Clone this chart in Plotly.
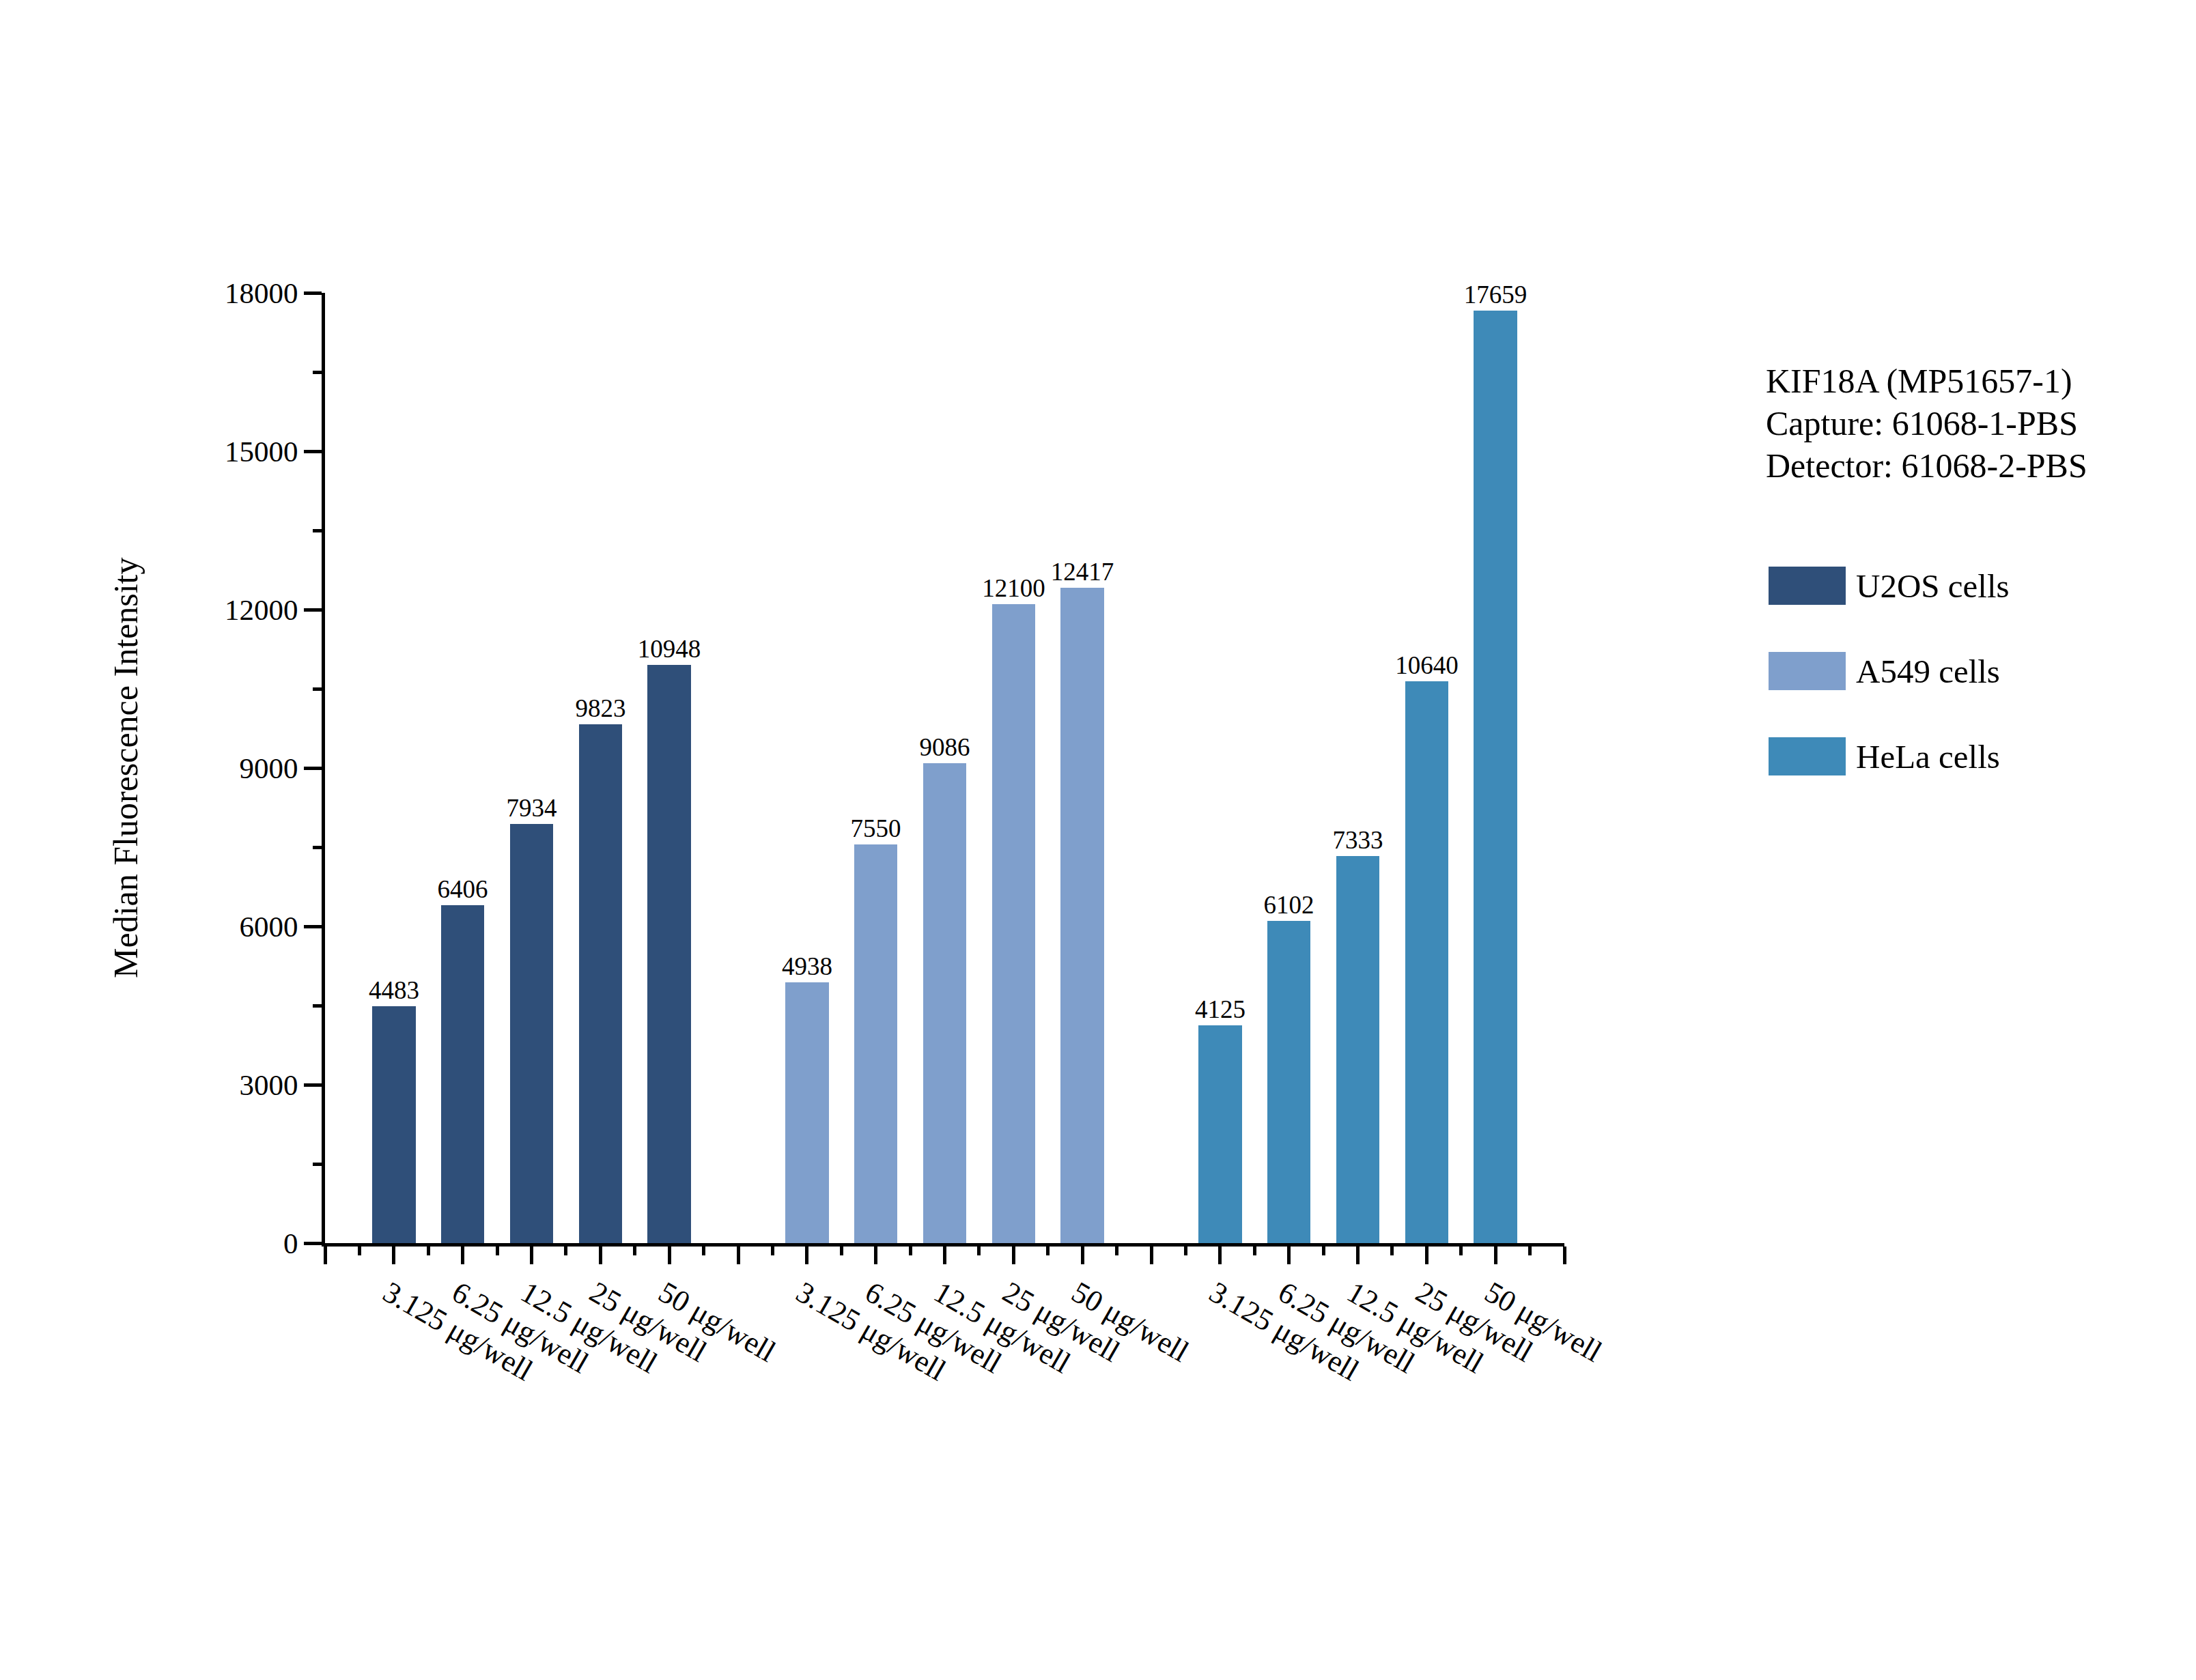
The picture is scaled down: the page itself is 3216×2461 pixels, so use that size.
"""
KIF18A sandwich assay: median fluorescence by dose, three cell lines.
Grouped bar chart on a numeric axis with one empty slot between groups.
"""

import plotly.graph_objects as go

# ---------------------------------------------------------------------------
# Data
# ---------------------------------------------------------------------------

doses = ["3.125 μg/well", "6.25 μg/well", "12.5 μg/well", "25 μg/well", "50 μg/well"]
cell_lines = ["U2OS cells", "A549 cells", "HeLa cells"]
u2os_values = [4483, 6406, 7934, 9823, 10948]
a549_values = [4938, 7550, 9086, 12100, 12417]
hela_values = [4125, 6102, 7333, 10640, 17659]
info_lines = ["KIF18A (MP51657-1)", "Capture: 61068-1-PBS", "Detector: 61068-2-PBS"]
y_ticks = [0, 3000, 6000, 9000, 12000, 15000, 18000]

# ---------------------------------------------------------------------------
# Style / layout constants (pixels of the 3216 x 2461 page)
# ---------------------------------------------------------------------------

PAGE_PAD = 8  # default body margin of the written html page
W, H = 3216 - 2 * PAGE_PAD, 2461 - 2 * PAGE_PAD
PLOT_X0, PLOT_X1 = 476, 2291  # plot area in page pixels
PLOT_Y0, PLOT_Y1 = 429, 1821
L = PLOT_X0 - PAGE_PAD
T = PLOT_Y0 - PAGE_PAD
R = W - L - (PLOT_X1 - PLOT_X0)
B = H - T - (PLOT_Y1 - PLOT_Y0)
COLORS = ["#2F4F79", "#7F9FCC", "#3E8AB8"]
FONT = "Liberation Serif, Times New Roman, serif"


def px_x(px):
    return (px - PLOT_X0) / (PLOT_X1 - PLOT_X0)


def px_y(py):
    return (PLOT_Y1 - py) / (PLOT_Y1 - PLOT_Y0)


series = [u2os_values, a549_values, hela_values]
group_stride = len(doses) + 1
n_slots = group_stride * len(cell_lines)

fig = go.Figure()

for g, (name, vals, color) in enumerate(zip(cell_lines, series, COLORS)):
    xs = [1 + g * group_stride + i for i in range(len(vals))]
    fig.add_trace(
        go.Bar(
            x=xs,
            y=vals,
            name=name,
            width=0.63,
            marker=dict(color=color, line=dict(width=0)),
            text=[str(v) for v in vals],
            textposition="outside",
            textfont=dict(size=37, color="black", family=FONT),
            constraintext="none",
            cliponaxis=False,
            showlegend=False,
        )
    )

# tick labels only under bars, but a major tick at every slot
tick_vals = list(range(n_slots + 1))
tick_text = []
for t in tick_vals:
    g, i = divmod(t - 1, group_stride)
    tick_text.append(doses[i] if 0 <= t - 1 and i < len(doses) and g < len(cell_lines) else "")

# legend drawn by hand: long swatches as in the original
shapes = []
annotations = []
for k, (name, color) in enumerate(zip(cell_lines, COLORS)):
    y_mid = 858 + k * 125
    shapes.append(
        dict(
            type="rect",
            xref="paper",
            yref="paper",
            x0=px_x(2590),
            x1=px_x(2703),
            y0=px_y(y_mid + 28),
            y1=px_y(y_mid - 28),
            fillcolor=color,
            line=dict(width=0),
        )
    )
    annotations.append(
        dict(
            text=name,
            xref="paper",
            yref="paper",
            x=px_x(2716),
            y=px_y(y_mid),
            xanchor="left",
            yanchor="middle",
            showarrow=False,
            font=dict(size=49, color="black", family=FONT),
        )
    )

for k, line in enumerate(info_lines):
    annotations.append(
        dict(
            text=line,
            xref="paper",
            yref="paper",
            x=px_x(2584),
            y=px_y(558 + k * 62),
            xanchor="left",
            yanchor="middle",
            showarrow=False,
            font=dict(size=50, color="black", family=FONT),
        )
    )

annotations.append(
    dict(
        text="Median Fluorescence Intensity",
        xref="paper",
        yref="paper",
        x=px_x(184),
        y=0.5,
        xanchor="center",
        yanchor="middle",
        textangle=-90,
        showarrow=False,
        font=dict(size=50, color="black", family=FONT),
    )
)

fig.update_layout(
    width=W,
    height=H,
    autosize=False,
    margin=dict(l=L, r=R, t=T, b=B, pad=0),
    paper_bgcolor="white",
    plot_bgcolor="white",
    font=dict(family=FONT, color="black"),
    bargap=0,
    shapes=shapes,
    annotations=annotations,
    xaxis=dict(
        range=[0, n_slots],
        tickmode="array",
        tickvals=tick_vals,
        ticktext=tick_text,
        tickangle=30,
        tickfont=dict(size=44, family=FONT, color="black"),
        ticklabelshift=-8,
        ticks="outside",
        ticklen=26,
        tickwidth=5,
        tickcolor="black",
        showline=True,
        linewidth=5,
        linecolor="black",
        showgrid=False,
        zeroline=False,
        minor=dict(ticks="outside", ticklen=13, tickwidth=5, tickcolor="black", tick0=0.5, dtick=1),
    ),
    yaxis=dict(
        range=[0, 18000],
        tickmode="array",
        tickvals=y_ticks,
        ticktext=[str(v) for v in y_ticks],
        tickfont=dict(size=43, family=FONT, color="black"),
        ticks="outside",
        ticklen=26,
        tickwidth=5,
        tickcolor="black",
        showline=True,
        linewidth=5,
        linecolor="black",
        showgrid=False,
        zeroline=False,
        minor=dict(ticks="outside", ticklen=13, tickwidth=5, tickcolor="black", tick0=1500, dtick=3000),
    ),
)

fig.write_html("out.html")
